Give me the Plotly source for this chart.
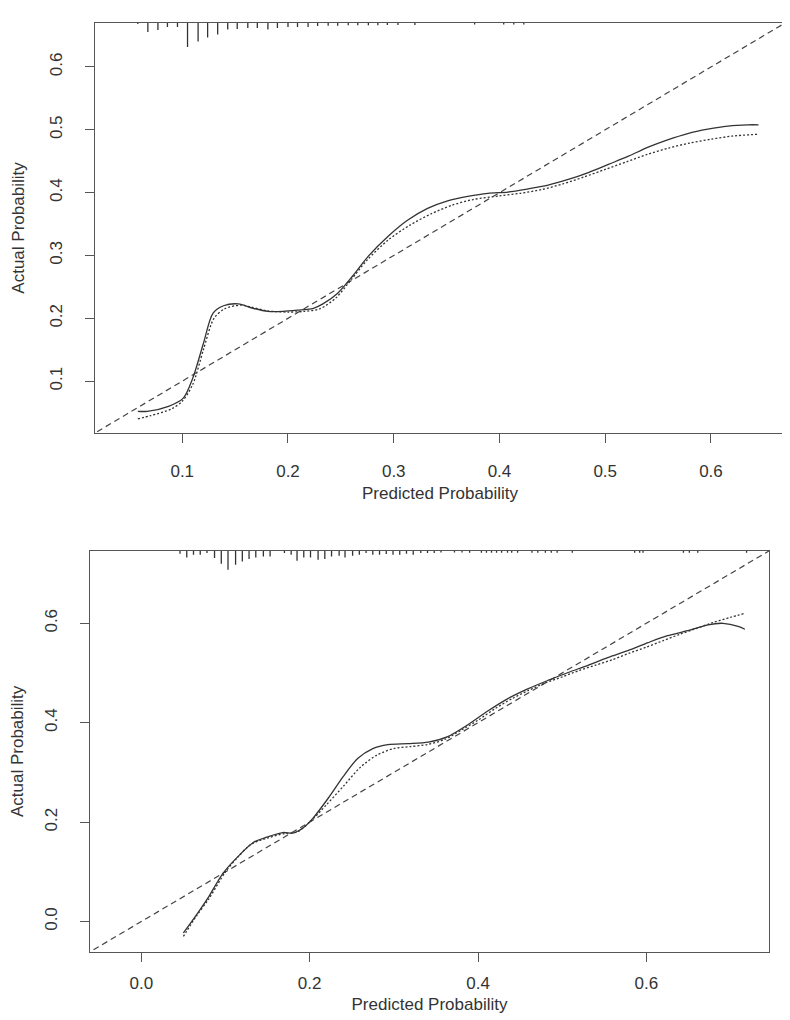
import plotly.graph_objects as go

# ---------------- data: top panel ----------------
top_x_solid = [0.058, 0.067, 0.087, 0.101, 0.110, 0.120, 0.129, 0.139, 0.153, 0.167, 0.181, 0.195,
               0.209, 0.224, 0.233, 0.247, 0.261, 0.276, 0.295, 0.313, 0.332, 0.351, 0.370, 0.389,
               0.408, 0.427, 0.446, 0.465, 0.484, 0.503, 0.522, 0.540, 0.559, 0.578, 0.597, 0.616,
               0.635, 0.645]
top_y_solid = [0.052, 0.052, 0.060, 0.073, 0.105, 0.160, 0.208, 0.220, 0.223, 0.216, 0.211, 0.211,
               0.213, 0.216, 0.223, 0.240, 0.267, 0.299, 0.331, 0.356, 0.375, 0.387, 0.394, 0.399,
               0.401, 0.406, 0.412, 0.421, 0.432, 0.445, 0.458, 0.472, 0.484, 0.494, 0.501, 0.506,
               0.508, 0.508]
top_x_dot = [0.058, 0.070, 0.090, 0.100, 0.110, 0.120, 0.130, 0.140, 0.155, 0.165, 0.180, 0.200,
             0.215, 0.230, 0.245, 0.260, 0.275, 0.295, 0.315, 0.335, 0.355, 0.375, 0.400, 0.420,
             0.440, 0.460, 0.480, 0.500, 0.520, 0.540, 0.560, 0.580, 0.600, 0.620, 0.645]
top_y_dot = [0.040, 0.045, 0.056, 0.068, 0.095, 0.150, 0.200, 0.215, 0.221, 0.218, 0.212, 0.210,
             0.211, 0.215, 0.232, 0.262, 0.293, 0.325, 0.348, 0.366, 0.380, 0.389, 0.395, 0.399,
             0.405, 0.414, 0.425, 0.437, 0.449, 0.461, 0.471, 0.479, 0.485, 0.490, 0.493]
top_rug_x = [0.058, 0.0675, 0.077, 0.086, 0.0955, 0.105, 0.115, 0.124, 0.1335, 0.143, 0.152, 0.162,
             0.171, 0.181, 0.190, 0.200, 0.209, 0.219, 0.228, 0.238, 0.247, 0.257, 0.266, 0.276,
             0.285, 0.294, 0.304, 0.320, 0.3765, 0.404, 0.4135, 0.423]
top_rug_n = [1, 9, 7, 4, 4, 24, 18.5, 14.5, 11.5, 6.5, 6, 5, 5, 6.5, 5, 4, 4, 4, 3, 2.7, 2.7, 2.3,
             2.3, 2.3, 2.3, 2, 2, 2, 1.5, 1.5, 1.5, 1.5]
top_ticks = [0.1, 0.2, 0.3, 0.4, 0.5, 0.6]
top_lim = [0.0175, 0.670]

# ---------------- data: bottom panel ----------------
bot_x_solid = [0.050, 0.067, 0.079, 0.097, 0.115, 0.133, 0.151, 0.168, 0.180, 0.192, 0.204, 0.222,
               0.240, 0.257, 0.275, 0.293, 0.317, 0.341, 0.364, 0.388, 0.412, 0.435, 0.459, 0.483,
               0.507, 0.530, 0.554, 0.578, 0.602, 0.625, 0.649, 0.673, 0.691, 0.709, 0.717]
bot_y_solid = [-0.023, 0.017, 0.047, 0.097, 0.131, 0.159, 0.171, 0.179, 0.178, 0.188, 0.208, 0.248,
               0.292, 0.328, 0.348, 0.356, 0.358, 0.361, 0.372, 0.396, 0.424, 0.448, 0.468, 0.485,
               0.501, 0.515, 0.531, 0.545, 0.561, 0.575, 0.585, 0.597, 0.600, 0.594, 0.588]
bot_x_dot = [0.050, 0.065, 0.080, 0.100, 0.115, 0.130, 0.150, 0.170, 0.185, 0.200, 0.220, 0.240,
             0.260, 0.280, 0.300, 0.320, 0.340, 0.360, 0.380, 0.400, 0.420, 0.440, 0.460, 0.480,
             0.500, 0.520, 0.540, 0.560, 0.580, 0.600, 0.620, 0.640, 0.660, 0.680, 0.700, 0.717]
bot_y_dot = [-0.030, 0.010, 0.045, 0.100, 0.130, 0.155, 0.168, 0.177, 0.180, 0.200, 0.235, 0.272,
             0.310, 0.335, 0.348, 0.352, 0.356, 0.366, 0.385, 0.405, 0.428, 0.448, 0.465, 0.480,
             0.492, 0.505, 0.516, 0.527, 0.540, 0.552, 0.565, 0.578, 0.590, 0.602, 0.612, 0.620]
bot_rug_x = [0.046, 0.054, 0.062, 0.070, 0.078, 0.087, 0.095, 0.103, 0.112, 0.120, 0.128, 0.136,
             0.145, 0.153, 0.170, 0.178, 0.185, 0.193, 0.201, 0.210, 0.218, 0.226, 0.235, 0.242,
             0.251, 0.259, 0.267, 0.275, 0.283, 0.291, 0.299, 0.307, 0.315, 0.323, 0.332, 0.340,
             0.348, 0.356, 0.372, 0.381, 0.390, 0.404, 0.410, 0.416, 0.422, 0.428, 0.435, 0.440,
             0.447, 0.464, 0.471, 0.480, 0.487, 0.494, 0.512, 0.586, 0.592, 0.596, 0.644, 0.651,
             0.661, 0.719]
bot_rug_n = [3, 6.7, 4, 4, 2.3, 7.3, 13, 19, 14, 10.7, 8.3, 6.7, 5.7, 5.7, 2.3, 4, 10, 6.7, 6.7, 9,
             8.3, 5.7, 5, 6.7, 5, 4, 2.3, 4, 4, 3.3, 4, 4, 3, 4, 2.3, 2.3, 2.3, 1.7, 1.7, 1.7,
             2, 2, 2, 2, 2, 2, 2, 2, 2, 2, 2, 2, 2, 2, 2, 2, 2, 2, 2, 2, 2, 2]
bot_ticks = [0.0, 0.2, 0.4, 0.6]
bot_lim = [-0.0613, 0.746]

ideal = [-0.2, 1.0]

INK = "#333333"
FRAME = "#555555"
FONT = "Liberation Sans, Arial, sans-serif"

fig = go.Figure()


def add_panel(xa, ya, ra, xs, ys, xd, yd, rx, rn, plot_h):
    fig.add_trace(go.Scatter(x=ideal, y=ideal, mode="lines", xaxis=xa, yaxis=ya,
                             line=dict(color="#444444", width=1.2, dash="6px,4px"),
                             showlegend=False, hoverinfo="skip"))
    fig.add_trace(go.Scatter(x=xd, y=yd, mode="lines", xaxis=xa, yaxis=ya,
                             line=dict(color=INK, width=1.3, dash="2px,2px", shape="spline",
                                       smoothing=0.8),
                             showlegend=False))
    fig.add_trace(go.Scatter(x=xs, y=ys, mode="lines", xaxis=xa, yaxis=ya,
                             line=dict(color=INK, width=1.3, shape="spline", smoothing=0.8),
                             showlegend=False))
    # rug hanging from the top border (scaled in pixels of the plot height)
    rxs, rys = [], []
    for x, n in zip(rx, rn):
        rxs += [x, x, None]
        rys += [1.0, 1.0 - n / plot_h, None]
    fig.add_trace(go.Scatter(x=rxs, y=rys, mode="lines", xaxis=xa, yaxis=ra,
                             line=dict(color=INK, width=1.3),
                             showlegend=False, hoverinfo="skip"))


add_panel("x", "y", "y3", top_x_solid, top_y_solid, top_x_dot, top_y_dot,
          top_rug_x, top_rug_n, 410)
add_panel("x2", "y2", "y4", bot_x_solid, bot_y_solid, bot_x_dot, bot_y_dot,
          bot_rug_x, bot_rug_n, 401)

W, H = 790, 1020
top_dom_x = [87 / W, 777 / W]
top_dom_y = [1 - 425 / H, 1 - 15 / H]
bot_dom_x = [81.7 / W, 761.3 / W]
bot_dom_y = [1 - 944 / H, 1 - 542.7 / H]

tickfont = dict(family=FONT, size=17, color=INK)
titlefont = dict(family=FONT, size=17, color=INK)


def xaxis(dom, rng, ticks, anchor, standoff, tstand):
    return dict(domain=dom, range=rng, anchor=anchor, tickvals=ticks, tickformat=".1f",
                showgrid=False, zeroline=False, showline=True, mirror=True, automargin=False,
                linecolor=FRAME, linewidth=1.3, ticks="outside", ticklen=9,
                tickcolor=FRAME, tickwidth=1.3, tickfont=tickfont,
                ticklabelstandoff=standoff,
                title=dict(text="Predicted Probability", font=titlefont, standoff=tstand))


def yaxis(dom, rng, ticks, anchor):
    return dict(domain=dom, range=rng, anchor=anchor, tickvals=ticks, tickformat=".1f",
                showgrid=False, zeroline=False, showline=True, mirror=True, automargin=False,
                linecolor=FRAME, linewidth=1.3, ticks="outside", ticklen=9,
                tickcolor=FRAME, tickwidth=1.3, tickfont=tickfont, tickangle=-90,
                ticklabelstandoff=16,
                title=dict(text="Actual Probability", font=titlefont, standoff=18))


rug_axis = dict(range=[0, 1], visible=False, showgrid=False, zeroline=False)

fig.update_layout(
    width=W, height=H,
    margin=dict(l=0, r=0, t=0, b=0),
    paper_bgcolor="white", plot_bgcolor="white",
    font=dict(family=FONT, color=INK),
    xaxis=xaxis(top_dom_x, top_lim, top_ticks, "y", 13, 7),
    yaxis=yaxis(top_dom_y, top_lim, top_ticks, "x"),
    xaxis2=xaxis(bot_dom_x, bot_lim, bot_ticks, "y2", 6, 6),
    yaxis2=yaxis(bot_dom_y, bot_lim, bot_ticks, "x2"),
    yaxis3=dict(rug_axis, overlaying="y", domain=top_dom_y, anchor="x"),
    yaxis4=dict(rug_axis, overlaying="y2", domain=bot_dom_y, anchor="x2"),
)

fig.write_html("out.html")
